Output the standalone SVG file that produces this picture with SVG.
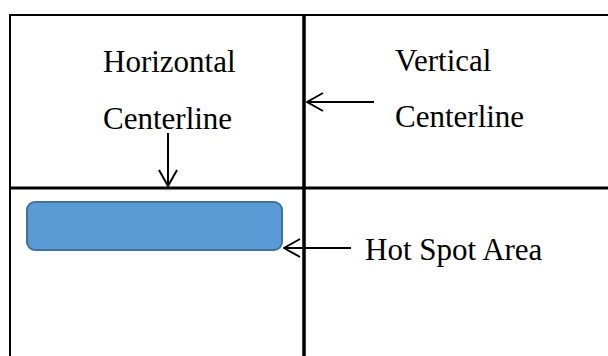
<svg xmlns="http://www.w3.org/2000/svg" width="608" height="356" viewBox="0 0 608 356">
  <style>
    .lbl { font-family: "Liberation Serif", "Times New Roman", serif; font-size: 31px; fill: #000; }
    .frame { stroke: #000; fill: none; }
    .arrow { stroke: #000; stroke-width: 2; fill: none; }
  </style>
  <defs>
    <!-- open V arrowhead, tip at the line end -->
    <marker id="head" viewBox="0 0 18 20" refX="17" refY="10" markerWidth="18" markerHeight="20" markerUnits="userSpaceOnUse" orient="auto">
      <path d="M1,1 L17,10 L1,19" fill="none" stroke="#000" stroke-width="2"/>
    </marker>
  </defs>
  <rect width="608" height="356" fill="#fff"/>

  <!-- grid lines -->
  <g id="grid">
    <line class="frame" x1="10" y1="15" x2="608" y2="15" stroke-width="2"/>
    <line class="frame" x1="10" y1="14" x2="10" y2="356" stroke-width="2"/>
    <line class="frame" x1="304" y1="14" x2="304" y2="356" stroke-width="3.5"/>
    <line class="frame" x1="9" y1="188" x2="608" y2="188" stroke-width="3"/>
  </g>

  <g id="hotspot">
    <rect x="27" y="202" width="255" height="48" rx="8" fill="#5B9BD5" stroke="#41719C" stroke-width="2"/>
  </g>

  <g id="labels">
    <text class="lbl" x="103" y="72">Horizontal</text>
    <text class="lbl" x="103" y="129">Centerline</text>
    <text class="lbl" x="395" y="71">Vertical</text>
    <text class="lbl" x="395" y="127">Centerline</text>
    <text class="lbl" x="365" y="260">Hot Spot Area</text>
  </g>

  <g id="connectors">
    <line class="arrow" x1="374" y1="102" x2="307" y2="102" marker-end="url(#head)"/>
    <line class="arrow" x1="168" y1="133" x2="168" y2="186" marker-end="url(#head)"/>
    <line class="arrow" x1="351" y1="248" x2="284" y2="248" marker-end="url(#head)"/>
  </g>
</svg>
